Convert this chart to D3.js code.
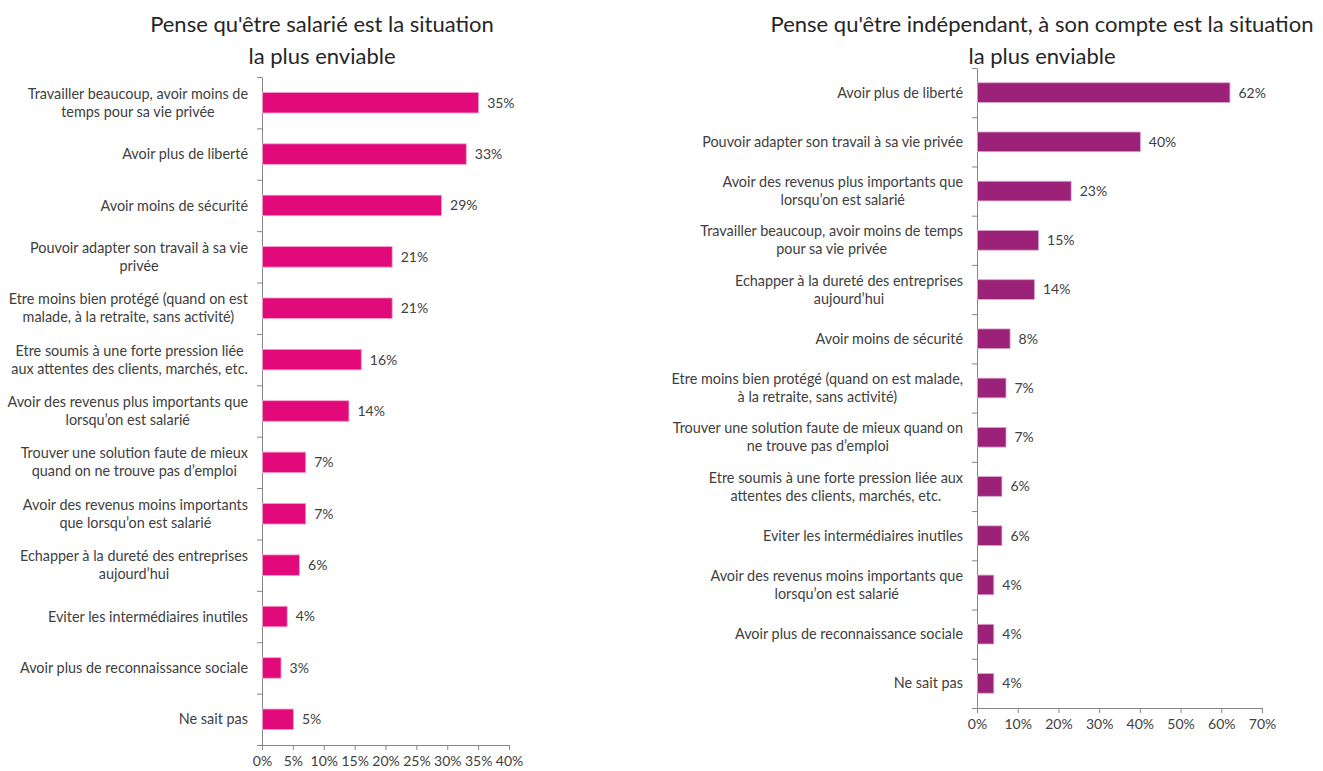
<!DOCTYPE html>
<html>
<head>
<meta charset="utf-8">
<script src="https://cdn.jsdelivr.net/npm/d3@7"></script>
<style>
  body { margin: 0; background: #fff; }
  svg { font-family: Lato, "Open Sans", sans-serif; }
  .title { font-size: 22px; fill: #262626; text-anchor: middle; }
  .cat { font-size: 14.4px; fill: #404040; }
  .val { font-size: 14px; fill: #404040; }
  .axis path, .axis line { stroke: #868686; }
  .axis text { font-size: 14px; fill: #404040; font-family: Lato, "Open Sans", sans-serif; }
</style>
</head>
<body>
<div id="chart"></div>
<script>
const WIDTH = 1323;
const HEIGHT = 771;

// left chart: salarié
const leftCategories = [
    "Travailler beaucoup, avoir moins de\ntemps pour sa vie privée",
    "Avoir plus de liberté",
    "Avoir moins de sécurité",
    "Pouvoir adapter son travail à sa vie\nprivée",
    "Etre moins bien protégé (quand on est\nmalade, à la retraite, sans activité)",
    "Etre soumis à une forte pression liée\naux attentes des clients, marchés, etc.",
    "Avoir des revenus plus importants que\nlorsqu’on est salarié",
    "Trouver une solution faute de mieux\nquand on ne trouve pas d’emploi",
    "Avoir des revenus moins importants\nque lorsqu’on est salarié",
    "Echapper à la dureté des entreprises\naujourd’hui",
    "Eviter les intermédiaires inutiles",
    "Avoir plus de reconnaissance sociale",
    "Ne sait pas"
];
const leftValues = [35, 33, 29, 21, 21, 16, 14, 7, 7, 6, 4, 3, 5];
const leftTicks = [0, 5, 10, 15, 20, 25, 30, 35, 40];

// right chart: indépendant
const rightCategories = [
    "Avoir plus de liberté",
    "Pouvoir adapter son travail à sa vie privée",
    "Avoir des revenus plus importants que\nlorsqu’on est salarié",
    "Travailler beaucoup, avoir moins de temps\npour sa vie privée",
    "Echapper à la dureté des entreprises\naujourd’hui",
    "Avoir moins de sécurité",
    "Etre moins bien protégé (quand on est malade,\nà la retraite, sans activité)",
    "Trouver une solution faute de mieux quand on\nne trouve pas d’emploi",
    "Etre soumis à une forte pression liée aux\nattentes des clients, marchés, etc.",
    "Eviter les intermédiaires inutiles",
    "Avoir des revenus moins importants que\nlorsqu’on est salarié",
    "Avoir plus de reconnaissance sociale",
    "Ne sait pas"
];
const rightValues = [62, 40, 23, 15, 14, 8, 7, 7, 6, 6, 4, 4, 4];
const rightTicks = [0, 10, 20, 30, 40, 50, 60, 70];

let svg = d3.select("#chart")
    .append("svg")
    .attr("width", WIDTH)
    .attr("height", HEIGHT);

drawChart({
    title: ["Pense qu'être salarié est la situation", "la plus enviable"],
    titleX: 322,
    categories: leftCategories,
    values: leftValues,
    ticks: leftTicks,
    x0: 262, x1: 509,
    top: 77, bottom: 745,
    color: "#E2097B",
    edge: "#f4a6cc"
});

drawChart({
    title: ["Pense qu'être indépendant, à son compte est la situation", "la plus enviable"],
    titleX: 1042,
    categories: rightCategories,
    values: rightValues,
    ticks: rightTicks,
    x0: 977, x1: 1262,
    top: 68, bottom: 708,
    color: "#9C2279",
    edge: "#d9a6cc"
});

function drawChart(cfg) {
    let g = svg.append("g");

    // title
    g.append("text")
        .attr("class", "title")
        .attr("x", cfg.titleX)
        .attr("y", 32)
        .selectAll("tspan")
        .data(cfg.title)
        .enter()
        .append("tspan")
        .attr("x", cfg.titleX)
        .attr("dy", (d, i) => i === 0 ? 0 : 32)
        .text(d => d);

    let maxTick = cfg.ticks[cfg.ticks.length - 1];
    let x = d3.scaleLinear().domain([0, maxTick]).range([cfg.x0, cfg.x1]);
    let y = d3.scaleBand()
        .domain(cfg.categories.map((d, i) => i))
        .range([cfg.top, cfg.bottom])
        .paddingInner(0.6)
        .paddingOuter(0.3);

    // x axis
    let xAxis = d3.axisBottom(x)
        .tickValues(cfg.ticks)
        .tickFormat(d => d + "%")
        .tickSizeInner(5)
        .tickSizeOuter(0)
        .tickPadding(6);
    g.append("g")
        .attr("class", "axis")
        .attr("transform", `translate(0,${cfg.bottom})`)
        .call(xAxis);

    // y axis with ticks at band boundaries
    let bounds = d3.range(cfg.categories.length + 1);
    let yb = d3.scaleLinear().domain([0, cfg.categories.length]).range([cfg.top, cfg.bottom]);
    let yAxis = d3.axisLeft(yb)
        .tickValues(bounds)
        .tickFormat("")
        .tickSizeInner(5)
        .tickSizeOuter(0);
    g.append("g")
        .attr("class", "axis")
        .attr("transform", `translate(${cfg.x0},0)`)
        .call(yAxis);

    // bars
    g.append("g")
        .selectAll("rect")
        .data(cfg.values)
        .enter()
        .append("rect")
        .attr("x", x(0) + 0.5)
        .attr("y", (d, i) => y(i))
        .attr("width", d => x(d) - x(0))
        .attr("height", y.bandwidth())
        .style("fill", cfg.color)
        .style("stroke", cfg.edge)
        .style("stroke-width", 0.8);

    // value labels
    g.append("g")
        .selectAll("text")
        .data(cfg.values)
        .enter()
        .append("text")
        .attr("class", "val")
        .attr("x", d => x(d) + 9)
        .attr("y", (d, i) => y(i) + y.bandwidth() / 2)
        .attr("dy", "0.35em")
        .text(d => d + "%");

    // category labels: block right-aligned, lines centred inside it
    let lineH = 18;
    let labelRight = cfg.x0 - 14;
    cfg.categories.forEach((c, i) => {
        let lines = c.split("\n");
        let cy = y(i) + y.bandwidth() / 2;
        let t = g.append("text")
            .attr("class", "cat")
            .attr("text-anchor", "middle");
        let spans = lines.map((l, k) => t.append("tspan")
            .attr("y", cy + (k - (lines.length - 1) / 2) * lineH)
            .attr("dy", "0.35em")
            .text(l));
        let maxW = d3.max(spans, s => s.node().getComputedTextLength());
        spans.forEach(s => s.attr("x", labelRight - maxW / 2));
    });
}
</script>
</body>
</html>
